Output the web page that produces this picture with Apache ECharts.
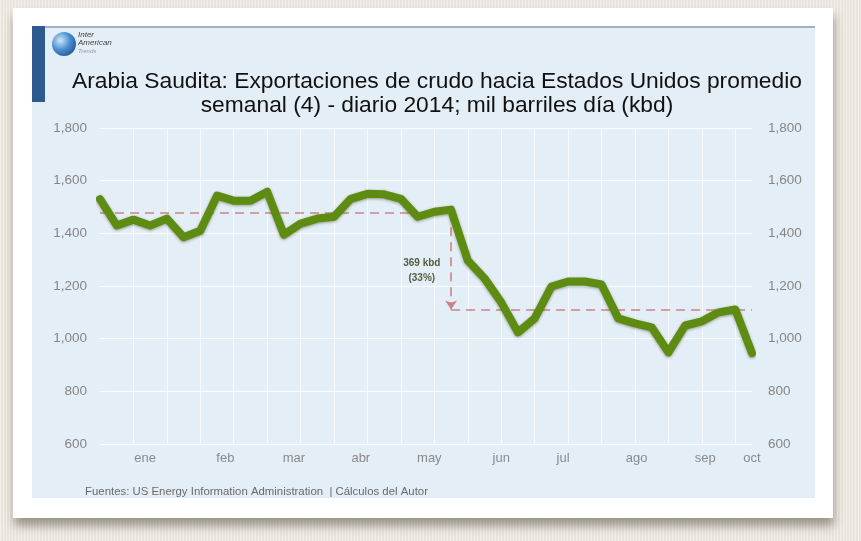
<!DOCTYPE html>
<html><head><meta charset="utf-8">
<script src="https://cdn.jsdelivr.net/npm/echarts@6/dist/echarts.min.js"></script>
<style>
html,body{margin:0;padding:0;width:861px;height:541px;overflow:hidden;}
body{background-color:#eeeae1;background-image:repeating-linear-gradient(90deg, rgba(255,255,255,0.35) 0px, rgba(255,255,255,0.35) 1px, rgba(0,0,0,0.025) 1px, rgba(0,0,0,0.025) 3px);}
#card{position:absolute;left:13px;top:8px;width:820px;height:510px;background:#fff;box-shadow:1px 8px 9px rgba(60,50,40,0.45);}
#panel{position:absolute;left:32px;top:26px;width:783px;height:472px;background:#e4eef6;border-top:2px solid #9db3cb;box-sizing:border-box;}
#bar{position:absolute;left:32px;top:26px;width:13px;height:76px;background:#2f5a8e;}
#chart{position:absolute;left:0;top:0;width:861px;height:541px;}
</style></head>
<body>
<div id="card"></div><div id="panel"></div><div id="bar"></div>
<div id="chart"></div>
<script>
// Weekly averages (kbd), 40 weeks of 2014
const weekValues = [1530,1430,1452,1430,1456,1385,1410,1543,1524,1524,
  1558,1395,1437,1456,1463,1531,1550,1548,1531,1463,
  1482,1490,1297,1229,1138,1024,1077,1198,1217,1217,
  1206,1077,1058,1043,948,1050,1066,1100,1111,945];
const monthNames = ['ene','feb','mar','abr','may','jun','jul','ago','sep','oct'];
const monthPos = [2.7,7.5,11.6,15.6,19.7,24.0,27.7,32.1,36.2,39.0];
const avgBefore = 1480;
const avgAfter = 1111;
const breakWeek = 21;
const yTicks = [600,800,1000,1200,1400,1600,1800];
const annotationText = ['369 kbd','(33%)'];
const titleLines = ['Arabia Saudita: Exportaciones de crudo hacia Estados Unidos promedio','semanal (4) - diario 2014; mil barriles día (kbd)'];
const footerText = 'Fuentes: US Energy Information Administration  | Cálculos del Autor';

const FONT = '"Liberation Sans", Arial, Helvetica, sans-serif';
const chart = echarts.init(document.getElementById('chart'));
const lastWeek = weekValues.length - 1;
const fmt = v => Number(v).toLocaleString('en-US');

chart.setOption({
  backgroundColor: 'transparent',
  animation: false,
  textStyle: { fontFamily: FONT },
  grid: { left: 100, right: 109, top: 128, bottom: 97, containLabel: false },
  xAxis: [
    { type: 'value', min: 0, max: lastWeek, interval: 2, position: 'bottom',
      axisLine: { show: false }, axisTick: { show: false }, axisLabel: { show: false },
      splitLine: { show: true, showMinLine: false, showMaxLine: false, lineStyle: { color: 'rgba(255,255,255,0.75)', width: 1 } } },
    { type: 'value', min: 0, max: lastWeek, position: 'bottom', offset: 0,
      axisLine: { show: false }, axisTick: { show: false }, splitLine: { show: false },
      axisLabel: { show: true, customValues: monthPos, color: '#8a8a8a', fontSize: 13, margin: 8, fontFamily: FONT,
        formatter: v => { const i = monthPos.findIndex(p => Math.abs(p - v) < 0.01); return i >= 0 ? monthNames[i] : ''; } } }
  ],
  yAxis: [
    { type: 'value', min: yTicks[0], max: yTicks[yTicks.length-1], interval: 200, position: 'left',
      axisLine: { show: false }, axisTick: { show: false },
      splitLine: { show: true, lineStyle: { color: 'rgba(255,255,255,0.85)', width: 1 } },
      axisLabel: { color: '#868686', fontSize: 13.5, margin: 13, formatter: fmt, fontFamily: FONT } },
    { type: 'value', min: yTicks[0], max: yTicks[yTicks.length-1], interval: 200, position: 'right',
      axisLine: { show: false }, axisTick: { show: false }, splitLine: { show: false },
      axisLabel: { color: '#868686', fontSize: 13.5, margin: 16, formatter: fmt, fontFamily: FONT } }
  ],
  series: [{
    type: 'line',
    xAxisIndex: 0, yAxisIndex: 0,
    data: weekValues.map((v, i) => [i, v]),
    symbol: 'none',
    z: 3,
    lineStyle: { color: '#5e8c12', width: 8, join: 'round', cap: 'round',
      shadowColor: 'rgba(40,60,10,0.45)', shadowBlur: 3, shadowOffsetY: 1 },
    markLine: {
      silent: true, z: 2, symbol: 'none',
      lineStyle: { color: '#c98585', width: 1.6, type: [9, 6] },
      label: { show: false },
      data: [
        [{ coord: [0, avgBefore], symbol: 'none' }, { coord: [breakWeek, avgBefore], symbol: 'none' }],
        [{ coord: [breakWeek, avgAfter], symbol: 'none' }, { coord: [lastWeek, avgAfter], symbol: 'none' }],
        [{ coord: [breakWeek, avgBefore], symbol: 'circle', symbolSize: 5 }, { coord: [breakWeek, avgAfter], symbol: 'arrow', symbolSize: 9 }]
      ]
    },
    markPoint: {
      silent: true,
      symbol: 'circle', symbolSize: 1,
      itemStyle: { color: 'rgba(0,0,0,0)' },
      label: { show: true, position: 'inside', formatter: annotationText.join('\n'),
        fontSize: 10, fontWeight: 'bold', color: '#545e40', lineHeight: 15, fontFamily: FONT },
      data: [{ coord: [19.25, 1257] }]
    }
  }],
  graphic: [
    { type: 'text', x: 437, y: 70, style: { text: titleLines.join('\n'), textAlign: 'center', textVerticalAlign: 'top',
      font: '22.8px ' + FONT, lineHeight: 24, fill: '#111' } },
    { type: 'circle', shape: { cx: 64, cy: 44, r: 12 },
      style: { fill: new echarts.graphic.RadialGradient(0.35, 0.35, 0.8, [
        { offset: 0, color: '#cfe6f7' }, { offset: 0.5, color: '#4b8fd0' }, { offset: 1, color: '#1d4f8c' }]) } },
    { type: 'text', left: 78, top: 31, style: { text: 'Inter', font: 'italic 8px ' + FONT, fill: '#444' } },
    { type: 'text', left: 78, top: 39, style: { text: 'American', font: 'italic 8px ' + FONT, fill: '#444' } },
    { type: 'text', left: 78, top: 48, style: { text: 'Trends', font: 'italic 6px ' + FONT, fill: '#8a9aaa' } },
    { type: 'text', left: 85, top: 486, style: { text: footerText, font: '11.4px ' + FONT, fill: '#6a6a6a' } }
  ]
});
</script>
</body></html>
